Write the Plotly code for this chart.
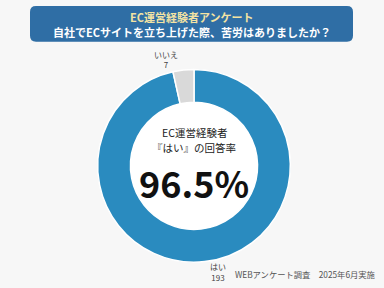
import plotly.graph_objects as go

labels = ["はい", "いいえ"]
values = [193, 7]
colors = ["#2a8bbf", "#d9d9d9"]
title_line1 = "EC運営経験者アンケート"
title_line2 = "自社でECサイトを立ち上げた際、苦労はありましたか？"
center_line1 = "EC運営経験者"
center_line2 = "『はい』の回答率"
center_value = "96.5%"
footnote = "WEBアンケート調査　2025年6月実施"

FONT = "Noto Sans CJK JP"
W, H = 384, 288
cx, cy, r = 194, 167, 97
hole = 0.66

fig = go.Figure(go.Pie(
    labels=labels, values=values, hole=hole, sort=False,
    direction="clockwise", rotation=0,
    marker=dict(colors=colors, line=dict(color="#ffffff", width=1.5)),
    textinfo="label+value", textposition="outside",
    texttemplate="%{label}<br>%{value}",
    outsidetextfont=dict(family=FONT, size=8, color="#444444"),
    showlegend=False, hoverinfo="none",
    domain=dict(x=[(cx - r) / W, (cx + r) / W], y=[(H - cy - r) / H, (H - cy + r) / H]),
))


def px(x):
    return x / W


def py(y):
    return 1 - y / H


# rounded title box (pixel coords converted to paper)
x0, x1, y0, y1, rr = 30, 353, 6, 42, 6
path = (
    f"M {px(x0 + rr)},{py(y0)} L {px(x1 - rr)},{py(y0)} "
    f"Q {px(x1)},{py(y0)} {px(x1)},{py(y0 + rr)} L {px(x1)},{py(y1 - rr)} "
    f"Q {px(x1)},{py(y1)} {px(x1 - rr)},{py(y1)} L {px(x0 + rr)},{py(y1)} "
    f"Q {px(x0)},{py(y1)} {px(x0)},{py(y1 - rr)} L {px(x0)},{py(y0 + rr)} "
    f"Q {px(x0)},{py(y0)} {px(x0 + rr)},{py(y0)} Z"
)
fig.add_shape(type="path", xref="paper", yref="paper", path=path,
              fillcolor="#2f6ea5", line=dict(width=0), layer="below")

hr = r * hole
fig.add_shape(type="circle", xref="paper", yref="paper",
              x0=px(cx - hr), x1=px(cx + hr), y0=py(cy + hr), y1=py(cy - hr),
              fillcolor="#ffffff", line=dict(width=0), layer="below")

ann = [
    dict(text=f"<b>{title_line1}</b>", x=px(192), y=py(17), font=dict(size=11, color="#f3e3a3")),
    dict(text=f"<b>{title_line2}</b>", x=px(192), y=py(32), font=dict(size=11, color="#ffffff")),
    dict(text=center_line1, x=px(cx), y=py(133), font=dict(size=10.5, color="#222222")),
    dict(text=center_line2, x=px(cx), y=py(149), font=dict(size=10.5, color="#222222")),
    dict(text=f"<b>{center_value}</b>", x=px(cx), y=py(183), font=dict(size=36, color="#111111")),
    dict(text=footnote, x=px(377), y=py(276), xanchor="right", font=dict(size=8.3, color="#555555")),
]
for a in ann:
    a.setdefault("xanchor", "center")
    a["font"]["family"] = FONT
    fig.add_annotation(xref="paper", yref="paper", yanchor="middle", showarrow=False, **a)

fig.update_layout(width=W, height=H, margin=dict(l=0, r=0, t=0, b=0),
                  paper_bgcolor="#f7f7f7", plot_bgcolor="#f7f7f7",
                  font=dict(family=FONT))
fig.write_html("out.html")
